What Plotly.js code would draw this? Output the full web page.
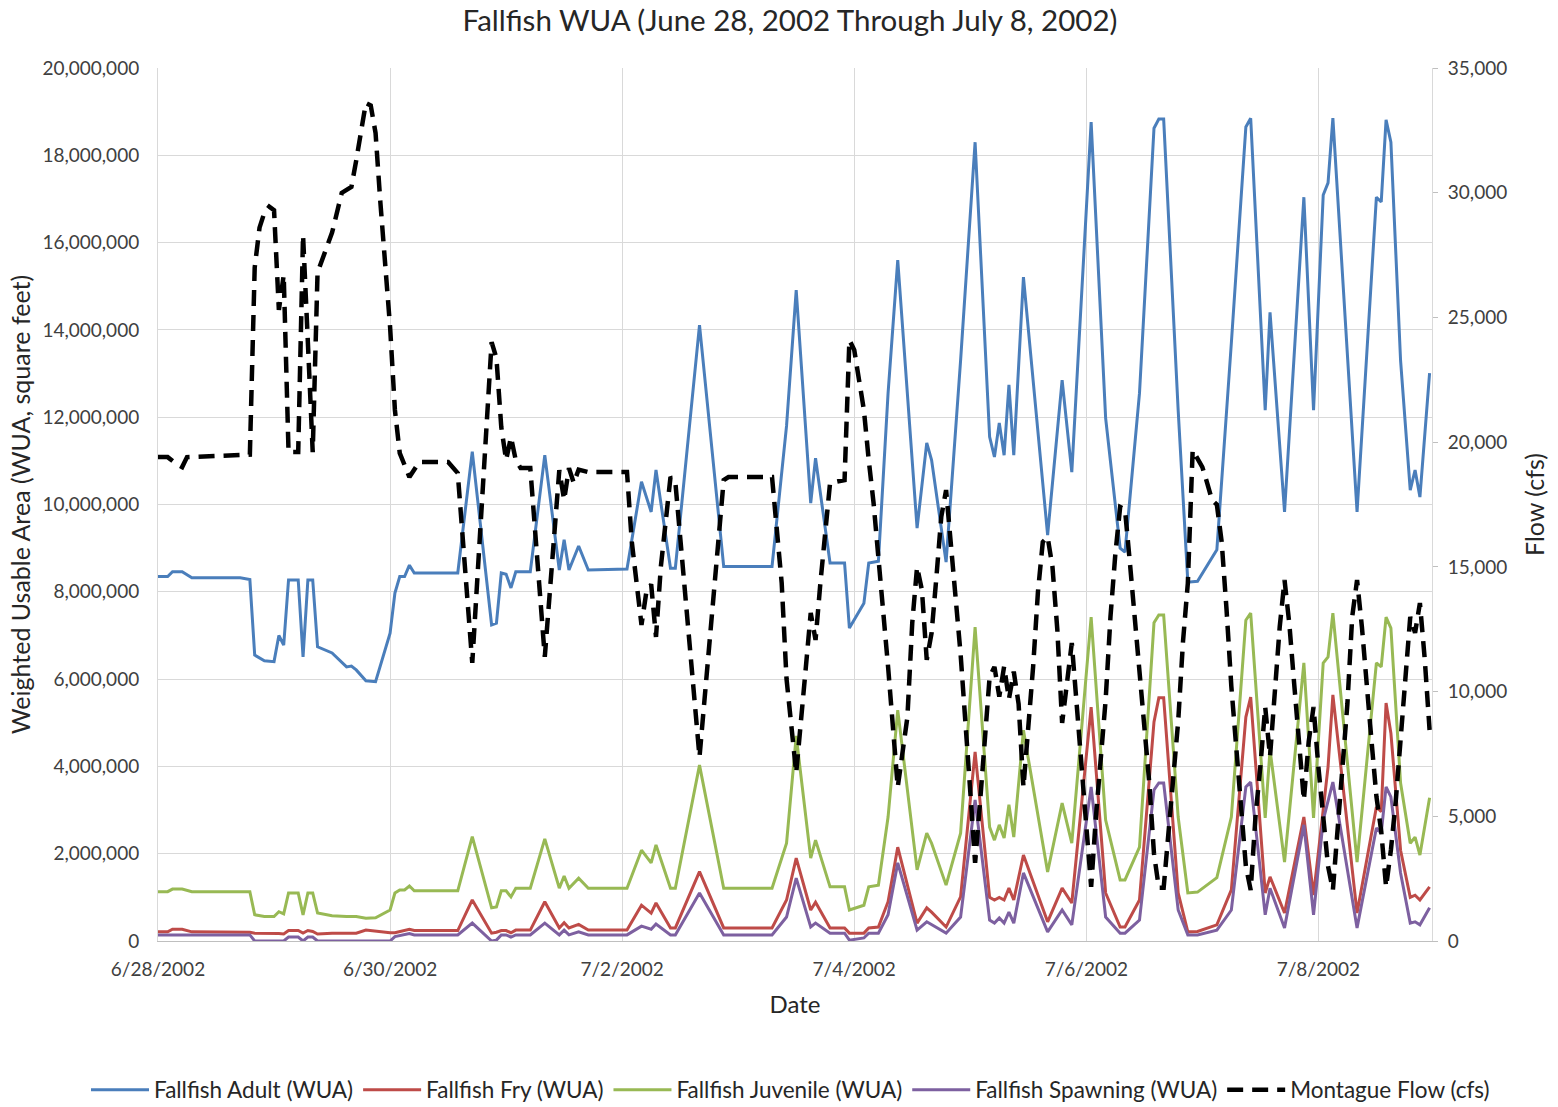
<!DOCTYPE html>
<html>
<head>
<meta charset="utf-8">
<title>Fallfish WUA</title>
<script src="https://cdn.plot.ly/plotly-3.0.1.min.js"></script>
<style>
  html, body { margin: 0; padding: 0; background: #ffffff; }
  #chart { width: 1558px; height: 1107px; }
</style>
</head>
<body>
<div id="chart"></div>
<script>
// Sample times, in hours after 6/28/2002 00:00, for the four WUA series
const wuaHours = [0,2,3,5,7,17,19,20,22,24,25,26,27,29,30,31,32,33,36,39,40,41,43,45,48,49,50,51,52,53,62,65,69,70,71,72,73,74,77,80,83,84,85,87,89,97,100,102,103,106,107,112,117,127,130,132,135,136,139,142,143,146,147,149,151,153,157,159,160,163,166,169,172,173,174,175,176,177,179,184,187,189,193,196,199,200,203,206,207,208,211,213,215,219,222,225,226,229,230,233,237,239,241,242,243,248,252,253,254,255,257,259,260,261,263];

// Weighted usable area, square feet
const adultWUA = [8350000,8350000,8460000,8460000,8320000,8320000,8280000,6550000,6420000,6400000,7000000,6780000,8270000,8270000,6510000,8270000,8270000,6740000,6600000,6280000,6300000,6210000,5960000,5940000,7050000,7970000,8350000,8350000,8610000,8430000,8430000,11210000,7240000,7280000,8430000,8400000,8090000,8460000,8460000,11130000,8500000,9190000,8500000,9050000,8500000,8520000,10520000,9830000,10790000,8540000,8540000,14110000,8580000,8580000,11800000,14910000,10030000,11060000,8660000,8660000,7170000,7740000,8660000,8700000,12550000,15600000,9460000,11410000,11020000,8680000,13300000,18300000,11550000,11090000,11870000,11130000,12740000,11130000,15210000,9300000,12850000,10740000,18760000,11980000,9000000,8910000,12550000,18620000,18830000,18830000,12160000,8220000,8240000,8960000,13700000,18650000,18850000,12160000,14400000,9830000,17040000,12160000,17090000,17370000,18850000,9830000,17040000,16930000,18810000,18300000,13300000,10330000,10790000,10170000,13010000];

const fryWUA = [210000,210000,270000,270000,210000,210000,200000,180000,180000,180000,170000,160000,240000,240000,180000,240000,220000,160000,180000,180000,180000,180000,250000,220000,190000,190000,220000,240000,270000,240000,240000,940000,180000,200000,240000,240000,190000,250000,250000,900000,300000,420000,300000,380000,250000,250000,820000,640000,870000,300000,300000,1590000,300000,300000,940000,1900000,710000,890000,300000,300000,180000,180000,300000,320000,900000,2150000,410000,760000,660000,320000,1010000,4330000,1000000,940000,1000000,940000,1210000,940000,1970000,440000,1210000,870000,5360000,1100000,320000,320000,940000,5020000,5570000,5570000,1100000,210000,220000,370000,1170000,5130000,5590000,1100000,1470000,640000,2840000,1050000,3070000,3990000,5640000,640000,3070000,2960000,5450000,4760000,2080000,1000000,1050000,940000,1240000];

const juvenileWUA = [1130000,1130000,1190000,1190000,1130000,1130000,1130000,600000,560000,560000,670000,620000,1100000,1100000,600000,1100000,1100000,640000,580000,560000,560000,560000,520000,530000,710000,1100000,1170000,1170000,1260000,1150000,1150000,2390000,760000,780000,1150000,1150000,1010000,1210000,1210000,2340000,1210000,1490000,1210000,1440000,1210000,1210000,2080000,1790000,2200000,1210000,1210000,4030000,1210000,1210000,2240000,4700000,1900000,2310000,1240000,1240000,710000,820000,1240000,1280000,2840000,5290000,1630000,2470000,2240000,1280000,2470000,7190000,2610000,2310000,2660000,2360000,3120000,2380000,4830000,1580000,3160000,2240000,7420000,2770000,1400000,1400000,2150000,7290000,7470000,7470000,2840000,1100000,1120000,1450000,2840000,7350000,7510000,2820000,4380000,1810000,6370000,2820000,6370000,6510000,7510000,1810000,6370000,6280000,7420000,7170000,3620000,2240000,2380000,1970000,3280000];

const spawningWUA = [140000,140000,150000,150000,140000,140000,140000,0,0,0,0,0,90000,90000,0,90000,90000,0,0,0,0,0,0,0,0,100000,120000,140000,170000,140000,140000,410000,0,20000,140000,140000,90000,140000,140000,410000,140000,250000,140000,210000,140000,140000,340000,270000,390000,140000,140000,1100000,140000,140000,550000,1440000,320000,410000,180000,180000,20000,70000,180000,180000,600000,1790000,250000,440000,370000,180000,550000,3230000,480000,410000,530000,410000,660000,410000,1560000,210000,710000,370000,3530000,550000,180000,180000,480000,3460000,3620000,3620000,710000,140000,140000,250000,710000,3530000,3640000,600000,1210000,300000,2660000,600000,2770000,3200000,3640000,300000,2590000,2470000,3530000,3300000,1560000,410000,440000,370000,760000];

// Montague gauge flow, cfs, with its own sample times
const flowHours = [0,2,4,5,6,18,19,20,21,22,23,24,25,26,27,29,30,31,32,33,36,38,40,41,43,44,45,46,47,48,49,50,52,54,60,62,65,69,70,71,72,73,74,75,77,80,83,84,85,86,87,89,97,98,100,101,102,103,104,106,107,112,117,118,127,129,130,132,134,135,136,137,139,142,143,144,145,146,147,148,151,153,155,156,157,158,159,160,161,162,163,164,166,168,169,170,172,173,174,175,176,177,178,179,181,182,183,184,185,186,187,189,190,192,193,194,196,197,198,199,200,201,203,205,206,207,208,210,211,212,213,214,216,217,218,219,220,221,222,224,225,226,227,228,229,230,231,232,233,234,235,236,237,238,239,240,241,242,243,244,245,246,247,248,249,250,251,252,253,254,255,256,257,258,259,260,261,262,263];

const montagueFlow = [19400,19400,19100,19000,19400,19480,19500,27000,28600,29200,29440,29300,25300,26700,19600,19600,28300,24000,19600,26800,28400,29990,30230,31300,33600,33500,32390,29590,27300,24620,21290,19560,18600,19200,19200,18760,11150,24010,23370,20600,19280,20200,19280,18960,18960,11390,18880,17680,18960,18360,18900,18800,18800,16000,12670,13990,14300,12190,15000,18600,18400,7380,18480,18600,18600,14350,10500,6735,10990,13150,12070,14350,18360,18480,24090,23700,22490,21290,19280,17560,11000,6170,8980,12750,15000,14070,11270,12350,14590,17000,18080,16000,11500,6000,3130,5500,10580,10990,9800,11000,9700,10800,9500,6170,10990,14000,16000,16200,15000,12500,8740,11950,9500,4800,2170,5000,9660,13000,15500,17400,17300,15200,10800,6400,3500,2130,2130,6330,8800,12000,14350,19680,19000,18360,17680,17500,16000,13300,10200,5400,3000,2040,5000,7000,9380,7400,9940,12590,14470,12700,10300,7900,5650,8000,9380,6980,4800,3000,2040,4500,7300,9500,13000,14470,12600,10000,8000,5800,4400,2170,3650,5600,8000,10800,12990,12350,13550,11300,8460];

// Date-axis labels, every second day
const tickHours = [0, 48, 96, 144, 192, 240];
const tickLabels = ['6/28/2002', '6/30/2002', '7/2/2002', '7/4/2002', '7/6/2002', '7/8/2002'];

const seriesNames = ['Fallfish Adult (WUA)', 'Fallfish Fry (WUA)', 'Fallfish Juvenile (WUA)', 'Fallfish Spawning (WUA)', 'Montague Flow (cfs)'];

const START = Date.UTC(2002, 5, 28, 0, 0, 0);
function toDate(h) {
  return new Date(START + h * 3600000).toISOString().slice(0, 19).replace('T', ' ');
}
const wuaX = wuaHours.map(toDate);
const flowX = flowHours.map(toDate);

const FONT = 'Lato, "Open Sans", "DejaVu Sans", sans-serif';

const traces = [
  { x: wuaX, y: adultWUA, name: seriesNames[0], type: 'scatter', mode: 'lines',
    line: { color: '#4A7EBB', width: 3 } },
  { x: wuaX, y: fryWUA, name: seriesNames[1], type: 'scatter', mode: 'lines',
    line: { color: '#BE4B48', width: 3 } },
  { x: wuaX, y: juvenileWUA, name: seriesNames[2], type: 'scatter', mode: 'lines',
    line: { color: '#98B954', width: 3 } },
  { x: wuaX, y: spawningWUA, name: seriesNames[3], type: 'scatter', mode: 'lines',
    line: { color: '#7D60A0', width: 3 } },
  { x: flowX, y: montagueFlow, name: seriesNames[4], type: 'scatter', mode: 'lines', yaxis: 'y2',
    line: { color: '#000000', width: 4.5, dash: '16px,9px' } }
];

const layout = {
  width: 1558,
  height: 1107,
  margin: { l: 158, r: 126, t: 68, b: 166, autoexpand: false },
  paper_bgcolor: '#ffffff',
  plot_bgcolor: '#ffffff',
  font: { family: FONT, size: 19, color: '#404040' },
  showlegend: true,
  title: {
    text: 'Fallfish WUA (June 28, 2002 Through July 8, 2002)',
    font: { family: FONT, size: 29.5, color: '#262626' },
    x: 790 / 1558, xanchor: 'center', xref: 'container',
    y: 0.981, yanchor: 'middle', yref: 'container'
  },
  xaxis: {
    type: 'date',
    range: [toDate(0), toDate(263.5)],
    tickmode: 'array',
    tickvals: tickHours.map(toDate),
    ticktext: tickLabels,
    showgrid: true,
    gridcolor: '#d9d9d9',
    gridwidth: 1,
    showline: true,
    linecolor: '#bfbfbf',
    linewidth: 1,
    zeroline: false,
    ticks: '',
    ticklabelstandoff: 11,
    automargin: false,
    tickfont: { family: FONT, size: 19, color: '#404040' },
    title: { text: 'Date', font: { family: FONT, size: 24, color: '#262626' }, standoff: 17 }
  },
  yaxis: {
    range: [0, 20000000],
    tickmode: 'linear',
    tick0: 0,
    dtick: 2000000,
    tickformat: ',d',
    showgrid: true,
    gridcolor: '#d9d9d9',
    gridwidth: 1,
    zeroline: false,
    showline: true,
    linecolor: '#d9d9d9',
    ticks: '',
    ticklabelstandoff: 14,
    automargin: false,
    tickfont: { family: FONT, size: 19, color: '#404040' },
    title: { text: 'Weighted Usable Area (WUA, square feet)', font: { family: FONT, size: 25, color: '#262626' }, standoff: 4 }
  },
  yaxis2: {
    overlaying: 'y',
    side: 'right',
    range: [0, 35000],
    tickmode: 'linear',
    tick0: 0,
    dtick: 5000,
    tickformat: ',d',
    showgrid: false,
    zeroline: false,
    showline: true,
    linecolor: '#d9d9d9',
    ticks: 'outside',
    ticklen: 5,
    tickcolor: '#bfbfbf',
    ticklabelstandoff: 6,
    automargin: false,
    tickfont: { family: FONT, size: 19, color: '#404040' },
    title: { text: 'Flow (cfs)', font: { family: FONT, size: 25, color: '#262626' }, standoff: 20 }
  },
  // Anchored left of the plot area so the single legend row may span the left margin too
  legend: {
    orientation: 'h',
    x: (86 - 158) / 1274, xanchor: 'left', xref: 'paper',
    y: -(1090 - 941) / 873, yanchor: 'middle', yref: 'paper',
    font: { family: FONT, size: 22.5, color: '#262626' },
    itemwidth: 58,
    traceorder: 'normal',
    bgcolor: 'rgba(0,0,0,0)'
  }
};

Plotly.newPlot('chart', traces, layout, { displayModeBar: false, staticPlot: true });
</script>
</body>
</html>
